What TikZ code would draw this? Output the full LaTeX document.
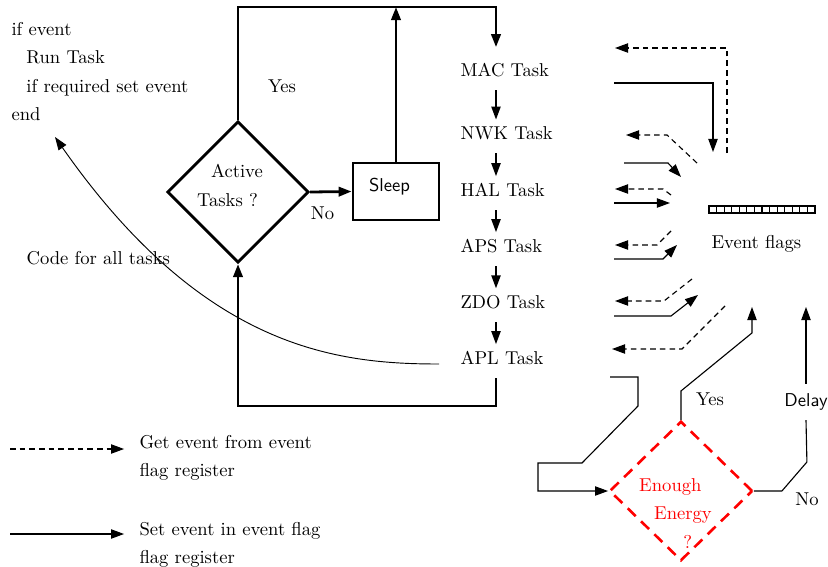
\documentclass[tikz,border=0pt]{standalone}
\usepackage{tikz}
\usetikzlibrary{positioning, arrows.meta, shapes.geometric, calc}

\begin{document}
\begin{tikzpicture}[
  x=0.5376pt, y=-0.5376pt,
  font=\fontsize{10pt}{15.2pt}\selectfont,
  >={Triangle[length=7pt,width=5pt]},
  flow/.style={line width=1.5pt},
  decision/.style={
    diamond, draw, line width=1.5pt,
    minimum size=76pt, inner sep=0pt
  },
  sleepbox/.style={
    rectangle, draw, line width=1.5pt,
    minimum width=46.2pt, minimum height=30.6pt,
    text height=7pt, text depth=7pt, font=\sffamily
  },
  task/.style={anchor=base west},
  setev/.style={line width=0.6pt, ->},
  getev/.style={line width=0.6pt, dash pattern=on 3pt off 2.2pt, ->},
  energy/.style={
    diamond, draw=red, line width=1.4pt, dash pattern=on 6pt off 4pt,
    minimum width=77pt, minimum height=75pt, inner sep=0pt
  },
]
\useasboundingbox (0,0) rectangle (828,567);

% Code run for every task
\node[anchor=north west, align=left] (code) at (5,16) {
  if event\\
  \hspace*{8pt}Run Task\\
  \hspace*{8pt}if required set event\\
  end
};
\node[anchor=base west] (codelbl) at (20,264) {Code for all tasks};
\coordinate (codetip) at (55,137);

% Scheduler loop
\node[decision] (act) at (238,192) {};
\node[align=left] (acttxt) at (230,185.5) {\hspace*{7.5pt}Active\\Tasks ?};
\node[sleepbox] (sleep) at (396,191.5) {Sleep\hspace*{7pt}};
\node (yes1) at (282,86) {Yes};

% Task list
\node[task] (mac) at (454,76) {MAC Task};
\node[task] (nwk) at (454,139) {NWK Task};
\node[task] (hal) at (454,196) {HAL Task};
\node[task] (aps) at (454,252) {APS Task};
\node[task] (zdo) at (454,308) {ZDO Task};
\node[task] (apl) at (454,364) {APL Task};

\coordinate (tr) at (496,7);
\coordinate (br) at (496,406);

\draw[flow,->,shorten >=4.8pt] (act.north) |- (tr) -- (mac.north -| tr);
\draw[flow,->] (sleep.north) -- (sleep.north |- tr);
\draw[flow,->] (act.east) -- node[pos=0.3, below=4pt] (no1) {No} (sleep.west);
\draw[flow,->,shorten <=4pt] (apl.south -| br) -- (br) -| (act.south);

\foreach \a/\b in {mac/nwk, nwk/hal, hal/aps, aps/zdo, zdo/apl}
  \draw[line width=0.8pt,->,shorten <=4pt] (\a.south -| tr) -- (\b.north -| tr);

\draw[line width=0.5pt,->,shorten <=8pt] (apl.base west)
  .. controls +(-116,0) and +(149,213) .. (codetip);

% Event flag register
\foreach \i in {0,...,13}
  \draw[line width=0.6pt] (709+\i*7.57,206) rectangle (716.57+\i*7.57,213);
\node[anchor=west] (flagtxt) at (705,244) {Event flags};

% Ends of the event lines
\foreach \n/\x/\y in {
  macget/615/48, nwkget/626/135, halget/615/189, apsget/615/245,
  zdoget/615/301, aplget/612/349,
  macset/614/83, nwkset/624/163, halset/614/203, apsset/614/259,
  zdoset/614/316, aplset/610/377,
  r1/727/153, r2/697/163, r3/671/195, r4/671/231, r5/692/279, r6/725/306,
  w1/713/152, w2/681/177, w3/670/203, w4/677/245, w5/698/295,
  w6/752/307, w7/806/307}
  \coordinate (\n) at (\x,\y);

% get event from flag register
\draw[getev] (r1) |- (macget);
\draw[getev] (r2) -- ++(-30,-28) -- (nwkget);
\draw[getev] (r3) -- ++(-8,-6) -- (halget);
\draw[getev] (r4) -- ++(-14,14) -- (apsget);
\draw[getev] (r5) -- ++(-28,22) -- (zdoget);
\draw[getev] (r6) -- ++(-43,43) -- (aplget);

% set event in flag register
\draw[setev] (macset) -| (w1);
\draw[setev] (nwkset) -- ++(44,0) -- (w2);
\draw[setev] (halset) -- (w3);
\draw[setev] (apsset) -- ++(49,0) -- (w4);
\draw[setev] (zdoset) -- ++(57,0) -- (w5);

% Energy check
\node[energy] (en) at (681,491) {};
\node[align=left, text=red] (entxt) at (675.5,513.5) {Enough\\\hspace*{8pt}Energy\\\hspace*{23.7pt}?};
\node[inner sep=5pt, font=\sffamily] (delay) at (806,402) {Delay};
\node (yes2) at (710,399) {Yes};
\node (no2) at (807,499) {No};

\draw[setev] (aplset) -- ++(28,0) -- ++(0,29) -- ++(-56,57) -- ++(-44,0) |- (en.west);
\draw[setev] (en.north) -- ++(0,-29) -- ++(71,-58) -- (w6);
\draw[line width=0.6pt] (en.east) -- ++(28,0) -- ++(25,-29) -- (delay.south);
\draw[setev] (delay.north) -- (w7);

% Legend
\node[anchor=north west, align=left] (gettxt) at (133,429) {Get event from event\\flag register};
\node[anchor=north west, align=left] (settxt) at (133,516) {Set event in event flag\\flag register};
\coordinate (lgget) at (10,449);
\coordinate (lgset) at (10,534);
\draw[getev, shorten >=4.8pt] (lgget) -- (lgget -| gettxt.west);
\draw[setev, shorten >=4.8pt] (lgset) -- (lgset -| settxt.west);

\end{tikzpicture}
\end{document}
